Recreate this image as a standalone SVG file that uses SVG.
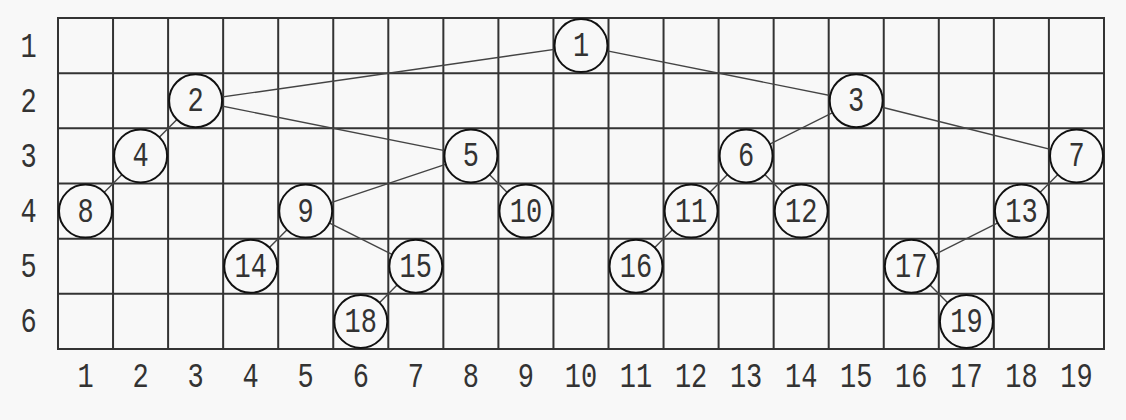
<svg xmlns="http://www.w3.org/2000/svg" width="1126" height="420" viewBox="0 0 1126 420">
<style>
.g{stroke:#333;stroke-width:2;fill:none}
.e{stroke:#444;stroke-width:1.4;fill:none}
.n circle{fill:#f8f8f8;stroke:#111;stroke-width:2}
text{font-family:"Liberation Mono","Courier New",monospace;font-size:27px;fill:#333;text-anchor:middle}
</style>
<rect width="1126" height="420" fill="#f8f8f8"/>
<g id="grid" class="g">
<rect x="58" y="18" width="1046" height="331"/>
<path d="M113.05 18V349M168.1 18V349M223.15 18V349M278.2 18V349M333.25 18V349M388.3 18V349M443.35 18V349M498.4 18V349M553.45 18V349M608.5 18V349M663.55 18V349M718.6 18V349M773.65 18V349M828.7 18V349M883.75 18V349M938.8 18V349M993.85 18V349M1048.9 18V349"/>
<path d="M58 73.2H1104M58 128.3H1104M58 183.5H1104M58 238.7H1104M58 293.8H1104"/>
</g>
<g id="row-labels">
<text transform="translate(28.5 56.6) scale(1 1.3)">1</text>
<text transform="translate(28.5 111.8) scale(1 1.3)">2</text>
<text transform="translate(28.5 166.9) scale(1 1.3)">3</text>
<text transform="translate(28.5 222.1) scale(1 1.3)">4</text>
<text transform="translate(28.5 277.3) scale(1 1.3)">5</text>
<text transform="translate(28.5 332.4) scale(1 1.3)">6</text>
</g>
<g id="col-labels">
<text transform="translate(85.5 387) scale(1 1.3)">1</text>
<text transform="translate(140.6 387) scale(1 1.3)">2</text>
<text transform="translate(195.6 387) scale(1 1.3)">3</text>
<text transform="translate(250.7 387) scale(1 1.3)">4</text>
<text transform="translate(305.7 387) scale(1 1.3)">5</text>
<text transform="translate(360.8 387) scale(1 1.3)">6</text>
<text transform="translate(415.8 387) scale(1 1.3)">7</text>
<text transform="translate(470.9 387) scale(1 1.3)">8</text>
<text transform="translate(525.9 387) scale(1 1.3)">9</text>
<text transform="translate(581 387) scale(1 1.3)">10</text>
<text transform="translate(636 387) scale(1 1.3)">11</text>
<text transform="translate(691.1 387) scale(1 1.3)">12</text>
<text transform="translate(746.1 387) scale(1 1.3)">13</text>
<text transform="translate(801.2 387) scale(1 1.3)">14</text>
<text transform="translate(856.2 387) scale(1 1.3)">15</text>
<text transform="translate(911.3 387) scale(1 1.3)">16</text>
<text transform="translate(966.4 387) scale(1 1.3)">17</text>
<text transform="translate(1021.4 387) scale(1 1.3)">18</text>
<text transform="translate(1076.5 387) scale(1 1.3)">19</text>
</g>
<g id="connectors" class="e">
<line x1="581" y1="45.6" x2="195.6" y2="100.8"/>
<line x1="581" y1="45.6" x2="856.2" y2="100.8"/>
<line x1="195.6" y1="100.8" x2="140.6" y2="155.9"/>
<line x1="195.6" y1="100.8" x2="470.9" y2="155.9"/>
<line x1="856.2" y1="100.8" x2="746.1" y2="155.9"/>
<line x1="856.2" y1="100.8" x2="1076.5" y2="155.9"/>
<line x1="140.6" y1="155.9" x2="85.5" y2="211.1"/>
<line x1="470.9" y1="155.9" x2="305.7" y2="211.1"/>
<line x1="470.9" y1="155.9" x2="525.9" y2="211.1"/>
<line x1="746.1" y1="155.9" x2="691.1" y2="211.1"/>
<line x1="746.1" y1="155.9" x2="801.2" y2="211.1"/>
<line x1="1076.5" y1="155.9" x2="1021.4" y2="211.1"/>
<line x1="305.7" y1="211.1" x2="250.7" y2="266.3"/>
<line x1="305.7" y1="211.1" x2="415.8" y2="266.3"/>
<line x1="691.1" y1="211.1" x2="636" y2="266.3"/>
<line x1="1021.4" y1="211.1" x2="911.3" y2="266.3"/>
<line x1="415.8" y1="266.3" x2="360.8" y2="321.4"/>
<line x1="911.3" y1="266.3" x2="966.4" y2="321.4"/>
</g>
<g id="node1" class="n"><circle cx="581" cy="45.6" r="26.5"/><text transform="translate(581 56.1) scale(1 1.3)">1</text></g>
<g id="node2" class="n"><circle cx="195.6" cy="100.8" r="26.5"/><text transform="translate(195.6 111.3) scale(1 1.3)">2</text></g>
<g id="node3" class="n"><circle cx="856.2" cy="100.8" r="26.5"/><text transform="translate(856.2 111.3) scale(1 1.3)">3</text></g>
<g id="node4" class="n"><circle cx="140.6" cy="155.9" r="26.5"/><text transform="translate(140.6 166.4) scale(1 1.3)">4</text></g>
<g id="node5" class="n"><circle cx="470.9" cy="155.9" r="26.5"/><text transform="translate(470.9 166.4) scale(1 1.3)">5</text></g>
<g id="node6" class="n"><circle cx="746.1" cy="155.9" r="26.5"/><text transform="translate(746.1 166.4) scale(1 1.3)">6</text></g>
<g id="node7" class="n"><circle cx="1076.5" cy="155.9" r="26.5"/><text transform="translate(1076.5 166.4) scale(1 1.3)">7</text></g>
<g id="node8" class="n"><circle cx="85.5" cy="211.1" r="26.5"/><text transform="translate(85.5 221.6) scale(1 1.3)">8</text></g>
<g id="node9" class="n"><circle cx="305.7" cy="211.1" r="26.5"/><text transform="translate(305.7 221.6) scale(1 1.3)">9</text></g>
<g id="node10" class="n"><circle cx="525.9" cy="211.1" r="26.5"/><text transform="translate(525.9 221.6) scale(1 1.3)">10</text></g>
<g id="node11" class="n"><circle cx="691.1" cy="211.1" r="26.5"/><text transform="translate(691.1 221.6) scale(1 1.3)">11</text></g>
<g id="node12" class="n"><circle cx="801.2" cy="211.1" r="26.5"/><text transform="translate(801.2 221.6) scale(1 1.3)">12</text></g>
<g id="node13" class="n"><circle cx="1021.4" cy="211.1" r="26.5"/><text transform="translate(1021.4 221.6) scale(1 1.3)">13</text></g>
<g id="node14" class="n"><circle cx="250.7" cy="266.3" r="26.5"/><text transform="translate(250.7 276.8) scale(1 1.3)">14</text></g>
<g id="node15" class="n"><circle cx="415.8" cy="266.3" r="26.5"/><text transform="translate(415.8 276.8) scale(1 1.3)">15</text></g>
<g id="node16" class="n"><circle cx="636" cy="266.3" r="26.5"/><text transform="translate(636 276.8) scale(1 1.3)">16</text></g>
<g id="node17" class="n"><circle cx="911.3" cy="266.3" r="26.5"/><text transform="translate(911.3 276.8) scale(1 1.3)">17</text></g>
<g id="node18" class="n"><circle cx="360.8" cy="321.4" r="26.5"/><text transform="translate(360.8 331.9) scale(1 1.3)">18</text></g>
<g id="node19" class="n"><circle cx="966.4" cy="321.4" r="26.5"/><text transform="translate(966.4 331.9) scale(1 1.3)">19</text></g>
</svg>
